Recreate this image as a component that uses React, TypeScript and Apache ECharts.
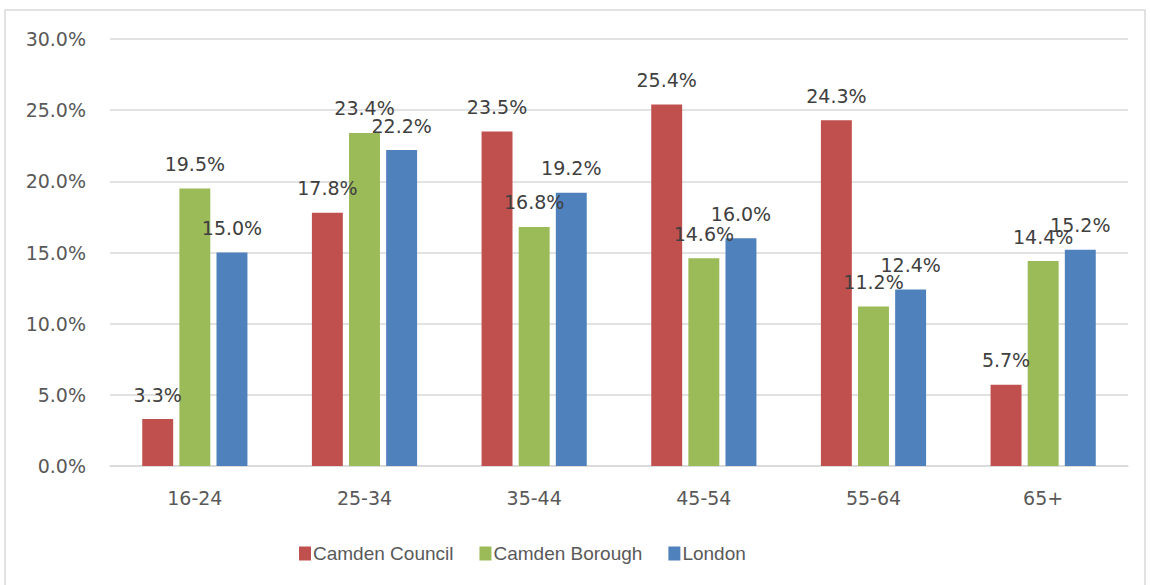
import React, { useEffect, useRef } from "react";
import * as echarts from "echarts";

const categories = ["16-24", "25-34", "35-44", "45-54", "55-64", "65+"];
const camdenCouncil = [3.3, 17.8, 23.5, 25.4, 24.3, 5.7];
const camdenBorough = [19.5, 23.4, 16.8, 14.6, 11.2, 14.4];
const london = [15.0, 22.2, 19.2, 16.0, 12.4, 15.2];
const seriesNames = ["Camden Council", "Camden Borough", "London"];
const colors = ["#C0504D", "#9BBB59", "#4F81BD"];

const NUM_FONT = "DejaVu Sans";

export default function App() {
  const ref = useRef<HTMLDivElement>(null);
  useEffect(() => {
    if (!ref.current) return;
    const chart = echarts.init(ref.current, null, { renderer: "svg" });
    const datas = [camdenCouncil, camdenBorough, london];
    chart.setOption({
      animation: false,
      backgroundColor: "#ffffff",
      graphic: [
        {
          type: "rect",
          shape: { x: 5, y: 10, width: 1140, height: 590 },
          style: { fill: "none", stroke: "#d9d9d9", lineWidth: 1.5 },
          silent: true,
          z: -1,
        },
      ],
      grid: { left: 110, right: 22, top: 39, bottom: 119, containLabel: false },
      legend: {
        left: 294,
        top: 539,
        itemWidth: 12,
        itemHeight: 14,
        itemGap: 26,
        icon: "rect",
        textStyle: { fontFamily: "Liberation Sans", fontSize: 19, color: "#595959", padding: [0, 0, 0, -3] },
        data: seriesNames,
      },
      xAxis: {
        type: "category",
        data: categories,
        axisLine: { show: true, lineStyle: { color: "#d9d9d9", width: 1.5 } },
        axisTick: { show: false },
        axisLabel: { fontFamily: NUM_FONT, fontSize: 19, color: "#595959", margin: 22 },
      },
      yAxis: {
        type: "value",
        min: 0,
        max: 30,
        interval: 5,
        axisLine: { show: false },
        axisTick: { show: false },
        splitLine: { lineStyle: { color: "#d9d9d9", width: 1.5 } },
        axisLabel: {
          fontFamily: NUM_FONT,
          fontSize: 19,
          color: "#595959",
          margin: 24,
          formatter: (v: number) => v.toFixed(1) + "%",
        },
      },
      series: datas.map((d, i) => ({
        name: seriesNames[i],
        type: "bar",
        data: d,
        barGap: "20%",
        barCategoryGap: "38%",
        itemStyle: { color: colors[i] },
        label: {
          show: true,
          position: "top",
          distance: 15,
          fontFamily: NUM_FONT,
          fontSize: 19,
          color: "#404040",
          formatter: (p: any) => Number(p.value).toFixed(1) + "%",
        },
      })),
    });
    return () => chart.dispose();
  }, []);
  return (
    <div
      ref={ref}
      style={{ position: "fixed", left: 0, top: 0, width: 1150, height: 585 }}
    />
  );
}
